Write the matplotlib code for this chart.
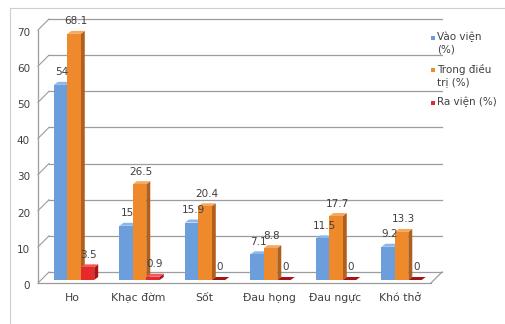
import matplotlib
matplotlib.use("Agg")
import matplotlib.pyplot as plt
from matplotlib.patches import Polygon, Rectangle
from matplotlib.lines import Line2D

categories = ['Ho', 'Khạc đờm', 'Sốt', 'Đau họng', 'Đau ngực', 'Khó thở']
vao_vien = [54, 15, 15.9, 7.1, 11.5, 9.2]
trong_dieu_tri = [68.1, 26.5, 20.4, 8.8, 17.7, 13.3]
ra_vien = [3.5, 0.9, 0, 0, 0, 0]
value_labels = [
    ['54', '15', '15.9', '7.1', '11.5', '9.2'],
    ['68.1', '26.5', '20.4', '8.8', '17.7', '13.3'],
    ['3.5', '0.9', '0', '0', '0', '0'],
]
series_names = ['Vào viện\n(%)', 'Trong điều\ntrị (%)', 'Ra viện (%)']
y_ticks = [0, 10, 20, 30, 40, 50, 60, 70]

# front / top / side colours for each series
face_colors = ['#6c9edc', '#ee8a2c', '#e42a2a']
top_colors = ['#8db6ea', '#f4a860', '#f05a5a']
side_colors = ['#4574b4', '#b0601c', '#a81414']

W, H = 505, 324
plt.rcParams['font.family'] = ['DejaVu Sans']
fig = plt.figure(figsize=(W / 100, H / 100), dpi=100)
ax = fig.add_axes([40 / W, (H - 280) / H, 393 / W, 253 / H])
ax.set_xlim(-0.5, len(categories) - 0.5)
ax.set_ylim(0, 70)
ax.axis('off')

# pixel sizes in data units, used for the fake 3D depth
px_x = len(categories) / 393
px_y = 70 / 253
front_dx, front_dy = -2 * px_x, -3 * px_y
back_dx, back_dy = 9 * px_x, 8 * px_y
x_lo, x_hi = -0.5, len(categories) - 0.5
grid_col = '#9c9c9c'
text_col = '#404040'

# back wall gridlines and left-wall diagonals
for v in y_ticks:
    ax.add_line(Line2D([x_lo + back_dx, x_hi + back_dx], [v + back_dy, v + back_dy],
                       color=grid_col, lw=0.9, clip_on=False, zorder=1))
    ax.add_line(Line2D([x_lo + front_dx, x_lo + back_dx], [v + front_dy, v + back_dy],
                       color=grid_col, lw=0.8, clip_on=False, zorder=1))
    ax.text(x_lo + front_dx - 8 * px_x, v + front_dy - 0.8, str(v), ha='right', va='center',
            fontsize=7.5, color=text_col)

# front axis line and floor outline
ax.add_line(Line2D([x_lo + front_dx] * 2, [front_dy, 70 + front_dy],
                   color=grid_col, lw=0.9, clip_on=False, zorder=1))
ax.add_line(Line2D([x_lo + front_dx, x_hi + front_dx], [front_dy, front_dy],
                   color=grid_col, lw=0.9, clip_on=False, zorder=1))
ax.add_line(Line2D([x_hi + front_dx, x_hi + back_dx], [front_dy, back_dy],
                   color=grid_col, lw=0.9, clip_on=False, zorder=1))

# clustered bars with top and side faces
width = 0.205
offsets = [-0.185, 0.02, 0.225]
depth_x, depth_y = 4 * px_x, 3 * px_y
for s, vals in enumerate([vao_vien, trong_dieu_tri, ra_vien]):
    xs = [i + offsets[s] for i in range(len(categories))]
    for x, v in zip(xs, vals):
        x0, x1 = x - width / 2, x + width / 2
        side = Polygon([(x1, 0), (x1 + depth_x, depth_y), (x1 + depth_x, v + depth_y), (x1, v)],
                       closed=True, fc=side_colors[s], ec='none', zorder=2 + s)
        top = Polygon([(x0, v), (x1, v), (x1 + depth_x, v + depth_y), (x0 + depth_x, v + depth_y)],
                      closed=True, fc=top_colors[s] if v > 0 else side_colors[s], ec='none',
                      zorder=2 + s)
        ax.add_patch(side)
        ax.add_patch(top)
    ax.bar(xs, vals, width=width, color=face_colors[s], zorder=2 + s, clip_on=False)
    for x, v, lab in zip(xs, vals, value_labels[s]):
        ax.annotate(lab, (x, v), xytext=(1, 9), textcoords='offset points',
                    ha='center', va='center', fontsize=7.5, color=text_col, zorder=6)

# category labels under the floor
for i, c in enumerate(categories):
    ax.annotate(c, (i, 0), xytext=(0, -13), textcoords='offset points',
                ha='center', va='center', fontsize=7.8, color=text_col)

# legend
legend_rows = [38, 70, 103]
for s, (name, yr) in enumerate(zip(series_names, legend_rows)):
    fig.patches.append(Rectangle((431 / W, (H - yr - 2) / H), 4 / W, 4 / H,
                                 transform=fig.transFigure, fc=face_colors[s], ec='none'))
    fig.text(437 / W, (H - yr + 6) / H, name, ha='left', va='top', fontsize=7.5,
             color=text_col, linespacing=1.3)

# chart area border
fig.add_artist(Line2D([10 / W, 10 / W], [0, (H - 8) / H], color='#cfcfcf', lw=0.8,
                      transform=fig.transFigure))
fig.add_artist(Line2D([10 / W, 1], [(H - 8) / H, (H - 8) / H], color='#cfcfcf', lw=0.8,
                      transform=fig.transFigure))

fig.savefig('out.png', dpi=100, facecolor='white')
